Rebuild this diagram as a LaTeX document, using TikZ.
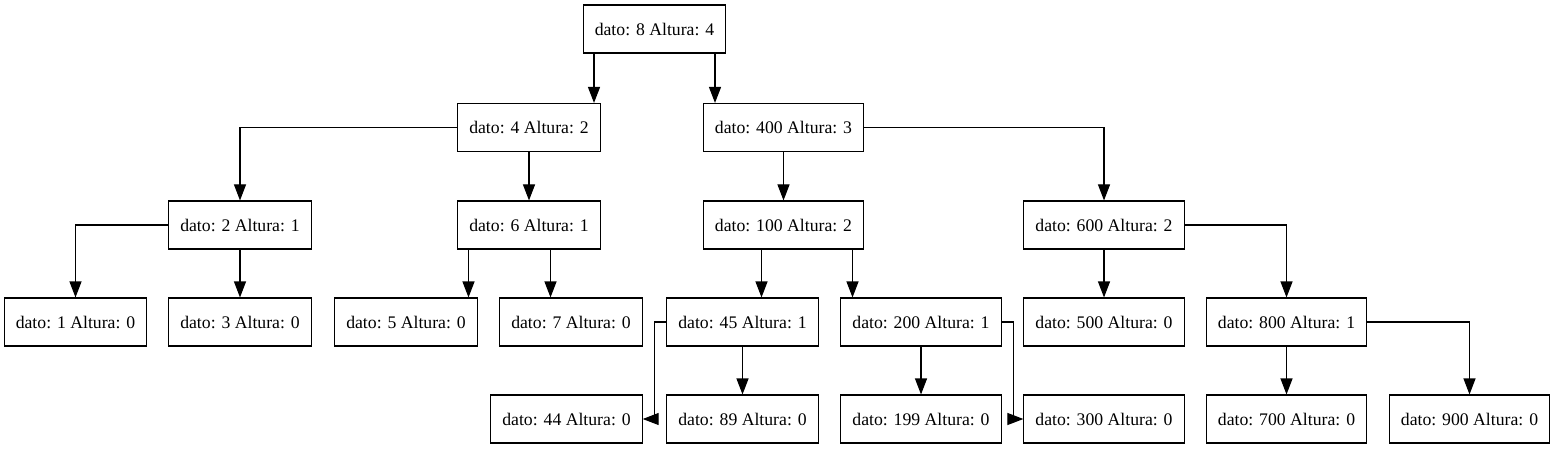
\documentclass[tikz,border=0pt]{standalone}
\usepackage{fontspec}
\setmainfont{Liberation Serif}
\usetikzlibrary{arrows.meta}
\tikzset{gvtip/.tip={Triangle[length=16pt,width=12pt]}}
\begin{document}
\begin{tikzpicture}[x=1pt,y=-1pt,
  box/.style={draw, line width=1.1pt, minimum height=48pt, inner xsep=11.5pt,
    font=\fontsize{17.7}{20}\selectfont, anchor=center},
  edge/.style={draw, line width=1.1pt, -gvtip}]
\useasboundingbox (0,0) rectangle (1554,449);
% level 0
\node[box] (n8) at (654.5,29) {dato: 8 Altura: 4};
% level 1
\node[box] (n4) at (529,127.5) {dato: 4 Altura: 2};
\node[box] (n400) at (783.5,127.5) {dato: 400 Altura: 3};
% level 2
\node[box] (n2) at (240,225) {dato: 2 Altura: 1};
\node[box] (n6) at (529,225) {dato: 6 Altura: 1};
\node[box] (n100) at (783.5,225) {dato: 100 Altura: 2};
\node[box] (n600) at (1104,225) {dato: 600 Altura: 2};
% level 3
\node[box] (n1) at (75.5,322) {dato: 1 Altura: 0};
\node[box] (n3) at (240,322) {dato: 3 Altura: 0};
\node[box] (n5) at (406,322) {dato: 5 Altura: 0};
\node[box] (n7) at (571,322) {dato: 7 Altura: 0};
\node[box] (n45) at (742.5,322) {dato: 45 Altura: 1};
\node[box] (n200) at (921,322) {dato: 200 Altura: 1};
\node[box] (n500) at (1104,322) {dato: 500 Altura: 0};
\node[box] (n800) at (1286.5,322) {dato: 800 Altura: 1};
% level 4
\node[box] (n44) at (566.5,419) {dato: 44 Altura: 0};
\node[box] (n89) at (742.5,419) {dato: 89 Altura: 0};
\node[box] (n199) at (921,419) {dato: 199 Altura: 0};
\node[box] (n300) at (1104,419) {dato: 300 Altura: 0};
\node[box] (n700) at (1286.5,419) {dato: 700 Altura: 0};
\node[box] (n900) at (1469.5,419) {dato: 900 Altura: 0};
% edges
\draw[edge] ([xshift=-60.5]n8.south) -- ([xshift=-60.5]n8.south |- n4.north);
\draw[edge] ([xshift=60.5]n8.south) -- ([xshift=60.5]n8.south |- n400.north);
\draw[edge] (n4.west) -| (n2.north);
\draw[edge] (n4.south) -- (n6.north);
\draw[edge] (n400.south) -- (n100.north);
\draw[edge] (n400.east) -| (n600.north);
\draw[edge] (n2.west) -| (n1.north);
\draw[edge] (n2.south) -- (n3.north);
\draw[edge] ([xshift=-60.5]n6.south) -- ([xshift=-60.5]n6.south |- n5.north);
\draw[edge] ([xshift=21.5]n6.south) -- ([xshift=21.5]n6.south |- n7.north);
\draw[edge] ([xshift=-22]n100.south) -- ([xshift=-22]n100.south |- n45.north);
\draw[edge] ([xshift=69]n100.south) -- ([xshift=69]n100.south |- n200.north);
\draw[edge] (n600.south) -- (n500.north);
\draw[edge] (n600.east) -| (n800.north);
\draw[edge] (n45.west) -- ++(-12,0) |- (n44.east);
\draw[edge] (n45.south) -- (n89.north);
\draw[edge] (n200.south) -- (n199.north);
\draw[edge] (n200.east) -- ++(12,0) |- (n300.west);
\draw[edge] (n800.south) -- (n700.north);
\draw[edge] (n800.east) -| (n900.north);
\end{tikzpicture}
\end{document}
